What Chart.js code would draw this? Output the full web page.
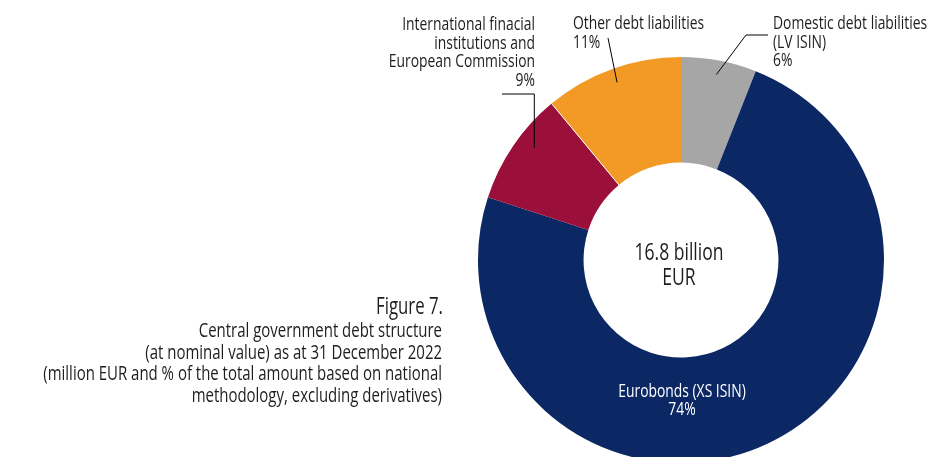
<!DOCTYPE html>
<html>
<head>
<meta charset="utf-8">
<script src="https://cdn.jsdelivr.net/npm/chart.js@4.4.1/dist/chart.umd.min.js"></script>
<style>
  html, body { margin: 0; padding: 0; background: #ffffff; overflow: hidden; }
  #wrap { width: 930px; height: 470px; }
</style>
</head>
<body>
<div id="wrap"><canvas id="debt" width="930" height="470"></canvas></div>
<script>
// Central government debt structure, 31 December 2022 (share of total, %)
const categories = [
  'Domestic debt liabilities (LV ISIN)',
  'Eurobonds (XS ISIN)',
  'International finacial institutions and European Commission',
  'Other debt liabilities'
];
const shares = [6, 74, 9, 11];
const sliceColors = ['#A6A6A6', '#0C2864', '#9B0F3B', '#F39A26'];

// Label text, split into the lines it is printed on
const labelLines = [
  ['Domestic debt liabilities', '(LV ISIN)'],
  ['Eurobonds (XS ISIN)'],
  ['International finacial', 'institutions and', 'European Commission'],
  ['Other debt liabilities']
];
const totalLines = ['16.8 billion', 'EUR'];
const captionTitle = 'Figure 7.';
const captionLines = [
  'Central government debt structure',
  '(at nominal value) as at 31 December 2022',
  '(million EUR and % of the total amount based on national',
  'methodology, excluding derivatives)'
];

const FONT = '"Open Sans", "Noto Sans", sans-serif';
const SQUEEZE = 0.73;   // horizontal squeeze to get a condensed face
const INK = '#1d1d1b';

function pct(i) {
  const total = shares.reduce((a, b) => a + b, 0);
  return Math.round(shares[i] / total * 100) + '%';
}

function condensedText(ctx, text, x, y, size, align, color) {
  ctx.save();
  ctx.font = size + 'px ' + FONT;
  ctx.fillStyle = color;
  ctx.textAlign = align;
  ctx.textBaseline = 'alphabetic';
  ctx.translate(x, y);
  ctx.scale(SQUEEZE, 1);
  ctx.fillText(text, 0, 0);
  ctx.restore();
}

function sliceProps(chart, i) {
  return chart.getDatasetMeta(0).data[i]
    .getProps(['x', 'y', 'startAngle', 'endAngle', 'innerRadius', 'outerRadius'], true);
}

// point on a slice at a fraction along its arc and a fraction of the outer radius
function slicePoint(chart, i, along, rr) {
  const p = sliceProps(chart, i);
  const a = p.startAngle + (p.endAngle - p.startAngle) * along;
  return { x: p.x + Math.cos(a) * p.outerRadius * rr, y: p.y + Math.sin(a) * p.outerRadius * rr };
}

// outside labels: text block position, line step, and leader route into the slice
const outerLabels = [
  { i: 0, x: 773, y: 29, step: 18.5, align: 'left',  lead: [[768, 35], [746, 35]], along: 0.5, rr: 0.93 },
  { i: 2, x: 535, y: 30, step: 18.7, align: 'right', lead: [[502, 94]], elbow: 94, along: 0.6, rr: 0.91 },
  { i: 3, x: 573, y: 29, step: 18.5, align: 'left',  lead: [[608, 38]], along: 0.5, rr: 0.93 }
];

const annotate = {
  id: 'annotate',
  afterDraw(chart) {
    const ctx = chart.ctx;
    const p0 = sliceProps(chart, 0);
    const cx = p0.x;

    // thin white seam where the IFI slice meets "other"
    const s = sliceProps(chart, 2);
    ctx.save();
    ctx.strokeStyle = '#ffffff';
    ctx.lineWidth = 1;
    ctx.beginPath();
    ctx.moveTo(s.x + Math.cos(s.endAngle) * s.innerRadius, s.y + Math.sin(s.endAngle) * s.innerRadius);
    ctx.lineTo(s.x + Math.cos(s.endAngle) * s.outerRadius, s.y + Math.sin(s.endAngle) * s.outerRadius);
    ctx.stroke();
    ctx.restore();

    // leader lines
    ctx.save();
    ctx.strokeStyle = '#000000';
    ctx.lineWidth = 1;
    outerLabels.forEach(l => {
      const end = slicePoint(chart, l.i, l.along, l.rr);
      ctx.beginPath();
      ctx.moveTo(l.lead[0][0], l.lead[0][1]);
      for (let k = 1; k < l.lead.length; k++) ctx.lineTo(l.lead[k][0], l.lead[k][1]);
      if (l.elbow !== undefined) ctx.lineTo(end.x, l.elbow);
      ctx.lineTo(end.x, end.y);
      ctx.stroke();
    });
    ctx.restore();

    // outside label text
    outerLabels.forEach(l => {
      const lines = labelLines[l.i].concat([pct(l.i)]);
      lines.forEach((t, k) => condensedText(ctx, t, l.x, l.y + k * l.step, 19, l.align, INK));
    });

    // label inside the Eurobonds slice
    const inner = labelLines[1].concat([pct(1)]);
    inner.forEach((t, k) => condensedText(ctx, t, cx + 1, 397 + k * 17.5, 19, 'center', '#ffffff'));

    // total in the hole
    totalLines.forEach((t, k) => condensedText(ctx, t, cx - 2, 260 + k * 25, 24, 'center', INK));

    // caption
    condensedText(ctx, captionTitle, 443, 314, 23, 'right', INK);
    captionLines.forEach((t, k) => condensedText(ctx, t, 442, 337 + k * 21.5, 20.5, 'right', INK));
  }
};

new Chart(document.getElementById('debt'), {
  type: 'doughnut',
  data: {
    labels: categories,
    datasets: [{
      data: shares,
      backgroundColor: sliceColors,
      borderWidth: 0
    }]
  },
  options: {
    responsive: false,
    animation: false,
    cutout: '48%',
    layout: { padding: { left: 478, right: 46, top: 57, bottom: 7 } },
    plugins: {
      legend: { display: false },
      tooltip: { enabled: false },
      title: { display: false }
    },
    events: []
  },
  plugins: [annotate]
});
</script>
</body>
</html>
